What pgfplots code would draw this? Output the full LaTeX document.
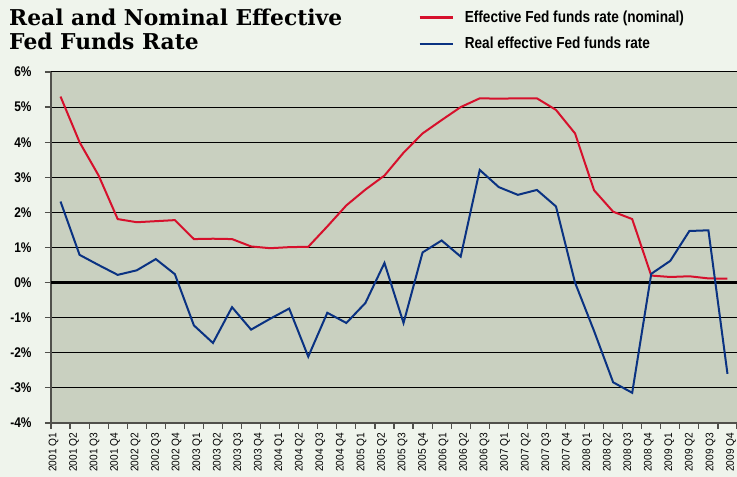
\documentclass[border=0pt]{standalone}
\usepackage{fontspec}
\setmainfont{Liberation Sans}[FakeStretch=0.85]
\newfontfamily\titlefont{DejaVu Serif}
\newfontfamily\xfont{Liberation Sans}[FakeStretch=0.92]
\usepackage{pgfplots}
\usepackage{pgfplotstable}
\pgfplotsset{compat=1.18}
\definecolor{bgout}{RGB}{239,244,236}
\definecolor{bgplot}{RGB}{201,208,192}
\definecolor{nomred}{RGB}{214,16,44}
\definecolor{realblue}{RGB}{10,50,130}
\definecolor{axgray}{RGB}{80,80,75}

\pgfplotstableread{
i nominal real
0 5.30 2.31
1 4.00 0.79
2 3.05 0.50
3 1.81 0.22
4 1.72 0.35
5 1.75 0.67
6 1.78 0.24
7 1.24 -1.22
8 1.25 -1.72
9 1.24 -0.70
10 1.03 -1.34
11 0.98 -1.03
12 1.01 -0.74
13 1.02 -2.11
14 1.60 -0.86
15 2.20 -1.15
16 2.65 -0.58
17 3.05 0.56
18 3.70 -1.15
19 4.25 0.86
20 4.63 1.20
21 5.00 0.74
22 5.25 3.21
23 5.24 2.72
24 5.25 2.50
25 5.25 2.64
26 4.92 2.17
27 4.25 0.00
28 2.63 -1.38
29 2.02 -2.84
30 1.81 -3.14
31 0.20 0.25
32 0.16 0.62
33 0.18 1.47
34 0.12 1.49
35 0.11 -2.60
}\datatable

\begin{document}
\begin{tikzpicture}
\fill[bgout] (0pt,0pt) rectangle (737pt,477pt);
\node[anchor=base west, inner sep=0pt, font=\titlefont\bfseries\fontsize{21.8}{24}\selectfont] at (9pt,451pt) {Real and Nominal Effective};
\node[anchor=base west, inner sep=0pt, font=\titlefont\bfseries\fontsize{21.8}{24}\selectfont] at (9pt,427pt) {Fed Funds Rate};
\begin{axis}[
  at={(51pt,54pt)}, anchor=south west,
  width=686pt, height=351pt, scale only axis,
  xmin=-0.5, xmax=35.5, ymin=-4, ymax=6,
  axis background/.style={fill=bgplot},
  axis x line*=bottom, axis y line*=left,
  axis line style={axgray, line width=1.6pt, -},
  ytick={-4,-3,...,6},
  yticklabels={-4\%,-3\%,-2\%,-1\%,0\%,1\%,2\%,3\%,4\%,5\%,6\%},
  yticklabel style={font=\bfseries\fontsize{14}{14}\selectfont, xshift=-10pt},
  ymajorgrids, grid style={black, line width=1pt},
  extra y ticks={0}, extra y tick labels={},
  extra y tick style={grid style={black, line width=2.6pt}},
  xtick={-0.5,0.5,...,35.5},
  xticklabels={},
  tick align=outside,
  major tick length=6pt,
  tick style={axgray, line width=1.2pt},
  legend style={draw=none, fill=none, at={(0.535,1.181)}, anchor=north west,
    font=\bfseries\fontsize{16}{16}\selectfont, inner sep=0pt, row sep=9.6pt, column sep=9pt},
  legend cell align=left,
  legend image code/.code={\draw[#1, line width=2.6pt] (0pt,0pt) -- (33pt,0pt);},
]
\addplot[nomred, line width=2pt] table[x=i, y=nominal]{\datatable};
\addlegendentry{Effective Fed funds rate (nominal)}
\addplot[realblue, line width=2pt] table[x=i, y=real]{\datatable};
\addlegendentry{Real effective Fed funds rate}
\end{axis}
\begin{axis}[
  at={(51pt,54pt)}, anchor=south west,
  width=686pt, height=351pt, scale only axis,
  xmin=-0.1218, xmax=33.292, ymin=0, ymax=1,
  hide y axis,
  axis x line*=bottom,
  axis line style={draw=none},
  xtick={0,...,33},
  xticklabels={2001 Q1,2001 Q2,2001 Q3,2001 Q4,2002 Q2,2002 Q3,2002 Q4,2003 Q1,2003 Q2,2003 Q3,2003 Q4,2004 Q1,2004 Q2,2004 Q3,2004 Q4,2005 Q1,2005 Q2,2005 Q3,2005 Q4,2006 Q1,2006 Q2,2006 Q3,2007 Q1,2007 Q2,2007 Q3,2007 Q4,2008 Q1,2008 Q2,2008 Q3,2008 Q4,2009 Q1,2009 Q2,2009 Q3,2009 Q4},
  major tick length=0pt,
  tick style={draw=none},
  xticklabel style={font=\xfont\fontsize{11}{11}\selectfont, rotate=90, anchor=east, xshift=-6.5pt},
]
\end{axis}
\pgfresetboundingbox
\useasboundingbox (0pt,0pt) rectangle (737pt,477pt);
\end{tikzpicture}
\end{document}
